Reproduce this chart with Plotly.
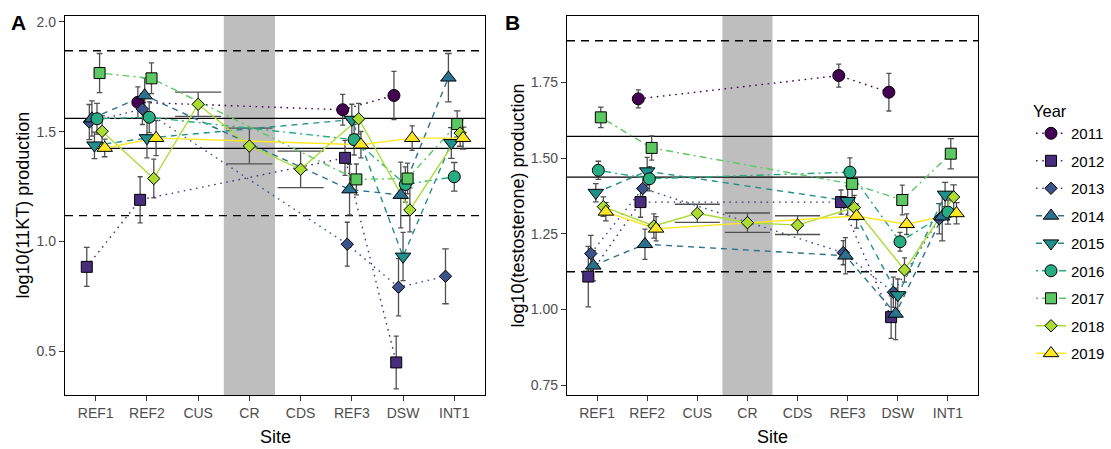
import plotly.graph_objects as go

# ---------------- data ----------------
sites = ["REF1", "REF2", "CUS", "CR", "CDS", "REF3", "DSW", "INT1"]
years = ["2011", "2012", "2013", "2014", "2015", "2016", "2017", "2018", "2019"]
N = None

# Panel A: log10(11KT) production (rows = years, columns = sites)
kt_mean = [
    [N, 1.634, N, N, N, 1.600, 1.665, N],
    [0.885, 1.190, N, N, N, 1.381, 0.450, N],
    [1.544, 1.603, N, N, N, 0.988, 0.792, 0.842],
    [1.560, 1.665, N, N, N, 1.237, 1.212, 1.746],
    [1.438, 1.471, N, N, N, 1.555, 0.932, 1.449],
    [1.559, 1.566, N, N, N, 1.464, 1.260, 1.295],
    [1.767, 1.743, N, N, N, 1.283, 1.287, 1.535],
    [1.502, 1.287, 1.625, 1.435, 1.329, 1.559, 1.144, 1.494],
    [1.426, 1.471, N, N, N, 1.441, 1.471, 1.471],
]
kt_se = [
    [N, 0.070, N, N, N, 0.070, 0.110, N],
    [0.089, 0.105, N, N, N, 0.080, 0.120, N],
    [0.080, 0.070, N, N, N, 0.100, 0.130, 0.125],
    [0.080, 0.080, N, N, N, 0.115, 0.150, 0.110],
    [0.060, 0.090, N, N, N, 0.070, 0.110, 0.070],
    [0.070, 0.070, N, N, N, 0.070, 0.080, 0.065],
    [0.089, 0.070, N, N, N, 0.070, 0.070, 0.060],
    [0.070, 0.088, 0.055, 0.081, 0.083, 0.070, 0.100, 0.060],
    [0.040, 0.080, N, N, N, 0.060, 0.056, 0.050],
]

# Panel B: log10(testosterone) production
t_mean = [
    [N, 1.696, N, N, N, 1.773, 1.718, N],
    [1.109, 1.355, N, N, N, 1.355, 0.975, N],
    [1.185, 1.400, N, N, N, 1.188, 1.057, 1.300],
    [1.145, 1.216, N, N, N, 1.178, 0.986, 1.307],
    [1.386, 1.457, N, N, N, 1.359, 1.048, 1.380],
    [1.460, 1.432, N, N, N, 1.454, 1.224, 1.322],
    [1.635, 1.534, N, N, N, 1.415, 1.362, 1.515],
    [1.340, 1.276, 1.318, 1.287, 1.279, 1.337, 1.131, 1.372],
    [1.323, 1.267, N, N, N, 1.309, 1.282, 1.318],
]
t_se = [
    [N, 0.030, N, N, N, 0.038, 0.062, N],
    [0.100, 0.050, N, N, N, 0.040, 0.070, N],
    [0.060, 0.040, N, N, N, 0.040, 0.050, 0.050],
    [0.050, 0.050, N, N, N, 0.060, 0.085, 0.080],
    [0.030, 0.046, N, N, N, 0.050, 0.053, 0.040],
    [0.030, 0.040, N, N, N, 0.047, 0.031, 0.040],
    [0.034, 0.040, N, N, N, 0.050, 0.049, 0.050],
    [0.032, 0.040, 0.030, 0.032, 0.031, 0.040, 0.040, 0.040],
    [0.030, 0.040, N, N, N, 0.040, 0.034, 0.035],
]

kt_ref_solid = [1.5605, 1.4246]
kt_ref_dashed = [1.8686, 1.1178]
t_ref_solid = [1.5724, 1.4375]
t_ref_dashed = [1.888, 1.125]

# ---------------- styles ----------------
colors = ["#440154", "#472D7B", "#3B528B", "#2C728E", "#21908C",
          "#27AD81", "#5DC863", "#AADC32", "#FDE725"]
symbols = ["circle", "square", "diamond", "triangle-up", "triangle-down",
           "circle", "square", "diamond", "triangle-up"]
msizes = [12, 11, 9.5, 13.5, 13.5, 12, 11, 9.5, 13.5]
dashes = ["1.6px,4.6px"] * 3 + ["6px,5px"] * 2 + ["2px,4px,7px,4px"] * 2 + ["solid"] * 2
FONT = "Liberation Sans, Arial, sans-serif"
DODGE = 0.4
ERR_W = 0.9
ERR_COL = "#505050"

W, H = 1111, 449
def px_x(p):
    return p / W
def px_y(p):
    return 1 - p / H

fig = go.Figure()


def dodge(means):
    xs = [[None] * len(sites) for _ in years]
    caps = [[None] * len(sites) for _ in years]
    for j in range(len(sites)):
        present = [i for i in range(len(years)) if means[i][j] is not None]
        n = len(present)
        for rank, i in enumerate(present):
            off = DODGE * ((rank + 0.5) / n - 0.5) if n > 1 else 0.0
            xs[i][j] = j + 1 + off
            caps[i][j] = ERR_W / n
    return xs, caps


def add_panel(means, ses, xa, ya):
    xs, caps = dodge(means)
    ex, ey = [], []
    for i in range(len(years)):
        for j in range(len(sites)):
            m = means[i][j]
            if m is None:
                continue
            x, w, s = xs[i][j], caps[i][j], ses[i][j]
            lo, hi = m - s, m + s
            ex += [x, x, None, x - w / 2, x + w / 2, None, x - w / 2, x + w / 2, None]
            ey += [lo, hi, None, hi, hi, None, lo, lo, None]
    fig.add_trace(go.Scatter(x=ex, y=ey, mode="lines", xaxis=xa, yaxis=ya,
                             line=dict(color=ERR_COL, width=1.3),
                             hoverinfo="skip", showlegend=False))
    for i in range(len(years)):
        px_ = [xs[i][j] for j in range(len(sites)) if means[i][j] is not None]
        py_ = [means[i][j] for j in range(len(sites)) if means[i][j] is not None]
        fig.add_trace(go.Scatter(x=px_, y=py_, mode="lines", xaxis=xa, yaxis=ya,
                                 line=dict(color=colors[i], width=1.4, dash=dashes[i]),
                                 legendgroup=years[i], showlegend=False))
    for i in range(len(years)):
        px_ = [xs[i][j] for j in range(len(sites)) if means[i][j] is not None]
        py_ = [means[i][j] for j in range(len(sites)) if means[i][j] is not None]
        fig.add_trace(go.Scatter(x=px_, y=py_, mode="markers", xaxis=xa, yaxis=ya,
                                 marker=dict(color=colors[i], symbol=symbols[i], size=msizes[i],
                                             line=dict(color="black", width=1)),
                                 legendgroup=years[i], showlegend=False, name=years[i]))


add_panel(kt_mean, kt_se, "x", "y")
add_panel(t_mean, t_se, "x2", "y2")

# legend entries
for i, yr in enumerate(years):
    fig.add_trace(go.Scatter(x=[None], y=[None], mode="lines+markers", name=yr,
                             legendgroup=yr, showlegend=True,
                             line=dict(color=colors[i], width=1.4, dash=dashes[i]),
                             marker=dict(color=colors[i], symbol=symbols[i], size=msizes[i],
                                         line=dict(color="black", width=1))))

shapes = []
for xa, ya, solid, dashed in [("x", "y", kt_ref_solid, kt_ref_dashed),
                               ("x2", "y2", t_ref_solid, t_ref_dashed)]:
    shapes.append(dict(type="rect", xref=xa, yref=ya + " domain", x0=3.5, x1=4.5, y0=0, y1=1,
                       fillcolor="#BEBEBE", line=dict(width=0), layer="below"))
    for v in dashed:
        shapes.append(dict(type="line", xref=xa + " domain", yref=ya, x0=0, x1=1, y0=v, y1=v,
                           line=dict(color="black", width=1.3, dash="8px,6px"), layer="below"))
    for v in solid:
        shapes.append(dict(type="line", xref=xa + " domain", yref=ya, x0=0, x1=1, y0=v, y1=v,
                           line=dict(color="black", width=1.3), layer="below"))

ydom = [px_y(395), px_y(14)]
axis_common = dict(showgrid=False, zeroline=False, showline=True, mirror=True,
                   linecolor="black", linewidth=1.3, ticks="outside", ticklen=5,
                   tickcolor="#333333", tickwidth=1.1,
                   tickfont=dict(family=FONT, size=14, color="#4D4D4D"))

fig.update_layout(
    width=W, height=H, margin=dict(l=0, r=0, t=0, b=0),
    paper_bgcolor="white", plot_bgcolor="white",
    font=dict(family=FONT, color="black"),
    shapes=shapes,
    xaxis=dict(domain=[px_x(65), px_x(485)], range=[0.4, 8.6], anchor="y",
               tickvals=list(range(1, len(sites) + 1)), ticktext=sites, **axis_common),
    yaxis=dict(domain=ydom, range=[0.3006, 2.027], anchor="x",
               tickvals=[0.5, 1.0, 1.5, 2.0], ticktext=["0.5", "1.0", "1.5", "2.0"], **axis_common),
    xaxis2=dict(domain=[px_x(567), px_x(978)], range=[0.4, 8.6], anchor="y2",
                tickvals=list(range(1, len(sites) + 1)), ticktext=sites, **axis_common),
    yaxis2=dict(domain=ydom, range=[0.717, 1.970], anchor="x2",
                tickvals=[0.75, 1.0, 1.25, 1.5, 1.75],
                ticktext=["0.75", "1.00", "1.25", "1.50", "1.75"], **axis_common),
    legend=dict(x=px_x(1031), y=px_y(94), xanchor="left", yanchor="top",
                title=dict(text="Year", font=dict(family=FONT, size=16.5, color="black")),
                font=dict(family=FONT, size=15, color="black"),
                tracegroupgap=5, bgcolor="rgba(0,0,0,0)"),
    annotations=[
        dict(text="<b>A</b>", x=px_x(9), y=px_y(21), xref="paper", yref="paper",
             xanchor="left", yanchor="middle", showarrow=False,
             font=dict(family=FONT, size=21, color="black")),
        dict(text="<b>B</b>", x=px_x(503), y=px_y(21), xref="paper", yref="paper",
             xanchor="left", yanchor="middle", showarrow=False,
             font=dict(family=FONT, size=21, color="black")),
        dict(text="log10(11KT) production", x=px_x(23), y=px_y(204.5), xref="paper", yref="paper",
             textangle=-90, xanchor="center", yanchor="middle", showarrow=False,
             font=dict(family=FONT, size=18, color="black")),
        dict(text="log10(testosterone) production", x=px_x(518), y=px_y(204.5), xref="paper",
             yref="paper", textangle=-90, xanchor="center", yanchor="middle", showarrow=False,
             font=dict(family=FONT, size=18, color="black")),
        dict(text="Site", x=px_x(275), y=px_y(437), xref="paper", yref="paper",
             xanchor="center", yanchor="middle", showarrow=False,
             font=dict(family=FONT, size=18, color="black")),
        dict(text="Site", x=px_x(772.5), y=px_y(437), xref="paper", yref="paper",
             xanchor="center", yanchor="middle", showarrow=False,
             font=dict(family=FONT, size=18, color="black")),
    ],
)

fig.write_html("out.html", config={"displayModeBar": False},
               post_script="document.body.style.margin='0px';document.body.style.overflow='hidden';")
